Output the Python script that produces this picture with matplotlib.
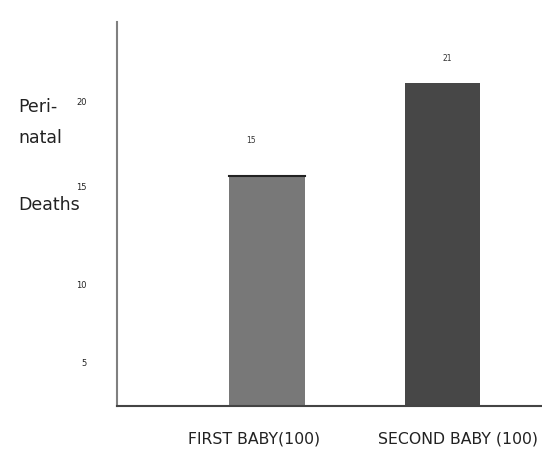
import matplotlib.pyplot as plt
import numpy as np

categories = ['FIRST BABY(100)', 'SECOND BABY (100)']
deaths = [15, 21]
bar_colors = ['#787878', '#474747']
ytick_labels = ['5', '10', '15', '20']

plt.rcParams['font.family'] = ['DejaVu Sans']

fig = plt.figure(figsize=(5.42, 4.54), dpi=100)
ax = fig.add_axes([0.2159, 0.1057, 0.79, 0.8458])

x = np.arange(len(categories))
ax.bar(x, deaths, width=0.43, color=bar_colors, edgecolor='none')
# dark rim on top of the first bar, as in the original
ax.plot([x[0] - 0.215, x[0] + 0.215], [deaths[0], deaths[0]], color='#222222', lw=1.5)

# value labels above bars
label_dx = [-0.09, 0.03]
label_dy = [2.3, 1.6]
for xi, v, dx, dy in zip(x, deaths, label_dx, label_dy):
    ax.text(xi + dx, v + dy, str(v), ha='center', va='center', fontsize=5.5,
            color='#333333')

ax.set_xlim(-0.856, 1.586)
ax.set_ylim(0, 25)

# category labels sit a little off the bar centres in the original
ax.set_xticks(x + np.array([-0.075, 0.09]))
ax.set_xticklabels(categories, fontsize=11.3, color='#222222')
# y tick labels are drawn where they appear in the original
ax.set_yticks([2.85, 7.9, 14.3, 19.8])
ax.set_yticklabels(ytick_labels, fontsize=6, color='#222222')
ax.tick_params(axis='both', length=0)
ax.tick_params(axis='y', pad=22)
ax.tick_params(axis='x', pad=18)

for s in ['top', 'right']:
    ax.spines[s].set_visible(False)
ax.spines['left'].set_color('#808080')
ax.spines['left'].set_linewidth(1.5)
ax.spines['bottom'].set_color('#444444')
ax.spines['bottom'].set_linewidth(1.5)

# y axis title in three pieces
for txt, ypx in [('Peri-', 107), ('natal', 138), ('Deaths', 205)]:
    fig.text(18 / 542, 1 - ypx / 454, txt, fontsize=12.5, va='center', ha='left',
             color='#222222')

fig.savefig('out.png', dpi=100)
